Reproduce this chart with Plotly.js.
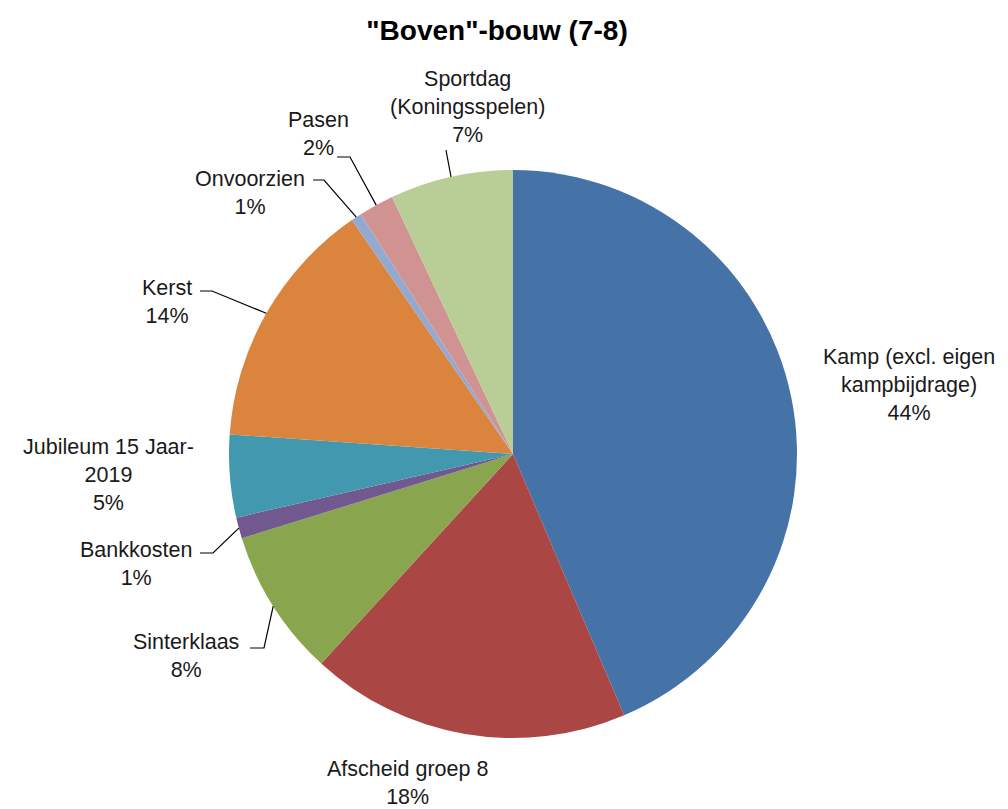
<!DOCTYPE html>
<html>
<head>
<meta charset="utf-8">
<script src="https://cdn.plot.ly/plotly-3.0.1.min.js"></script>
<style>html,body{margin:0;padding:0;background:#fff;}#chart{width:1008px;height:809px;}</style>
</head>
<body>
<div id="chart"></div>
<script>
// ---- data ----
const categories = ["Kamp (excl. eigen<br>kampbijdrage)", "Afscheid groep 8", "Sinterklaas", "Bankkosten",
  "Jubileum 15 Jaar-<br>2019", "Kerst", "Onvoorzien", "Pasen", "Sportdag<br>(Koningsspelen)"];
const values = [43.6, 18.2, 8.4, 1.2, 4.7, 14.3, 0.6, 2.0, 7.0];
const colors = ["#4572A7", "#AA4643", "#89A54E", "#71588F", "#4198AF", "#DB843D", "#93A9CF", "#D19392", "#B9CD96"];

// ---- layout/styling ----
const W = 1008, H = 809;
const CX = 513, CY = 454, R = 284;
// label text centres (px) and leader elbow points (px) ; null = no leader
const labelPos = [
  {x: 909, y: 385, leader: null},
  {x: 407, y: 783, leader: null},
  {x: 186, y: 656, leader: [[250, 648], [264, 648]]},
  {x: 136, y: 564, leader: [[200, 553], [213, 553]]},
  {x: 108, y: 475, leader: null},
  {x: 167, y: 302, leader: [[200, 291], [212, 291]]},
  {x: 250, y: 193, leader: [[313, 180], [324, 180]]},
  {x: 318, y: 134, leader: [[337, 157], [350, 157]]},
  {x: 467, y: 107, leader: [[446, 150]]}
];

const total = values.reduce((a, b) => a + b, 0);
const font = "Liberation Sans, Arial, sans-serif";

const annotations = [];
const shapes = [];
let cum = 0;
values.forEach((v, i) => {
  const mid = (cum + v / 2) / total * 2 * Math.PI; // clockwise from top
  cum += v;
  const pct = Math.round(v / total * 100);
  const lp = labelPos[i];
  annotations.push({
    xref: 'x', yref: 'y', x: lp.x, y: lp.y, showarrow: false,
    text: categories[i] + '<br>' + pct + '%',
    font: {family: font, size: 21.5, color: '#1a1a1a'},
    align: 'center', xanchor: 'center', yanchor: 'middle'
  });
  if (lp.leader) {
    const ex = CX + R * Math.sin(mid), ey = CY - R * Math.cos(mid);
    let d = 'M' + lp.leader[0][0] + ',' + lp.leader[0][1];
    for (let k = 1; k < lp.leader.length; k++) d += ' L' + lp.leader[k][0] + ',' + lp.leader[k][1];
    d += ' L' + ex.toFixed(1) + ',' + ey.toFixed(1);
    shapes.push({type: 'path', xref: 'x', yref: 'y', path: d, line: {color: '#000', width: 1.2}, layer: 'above'});
  }
});

const trace = {
  type: 'pie', values: values, labels: categories,
  marker: {colors: colors, line: {width: 0}},
  sort: false, direction: 'clockwise', rotation: 0,
  textinfo: 'none', showlegend: false, hoverinfo: 'label+percent',
  domain: {x: [(CX - R) / W, (CX + R) / W], y: [(H - CY - R) / H, (H - CY + R) / H]}
};

const layout = {
  width: W, height: H,
  margin: {l: 0, r: 0, t: 0, b: 0},
  paper_bgcolor: '#fff', plot_bgcolor: 'rgba(0,0,0,0)',
  font: {family: font},
  title: {text: '<b>"Boven"-bouw (7-8)</b>', x: 497 / W, xanchor: 'center', y: 1 - 30 / H, yanchor: 'middle',
          font: {family: font, size: 28, color: '#000'}},
  xaxis: {range: [0, W], visible: false, fixedrange: true},
  yaxis: {range: [H, 0], visible: false, fixedrange: true},
  annotations: annotations,
  shapes: shapes
};

Plotly.newPlot('chart', [trace], layout, {displayModeBar: false, staticPlot: true});
</script>
</body>
</html>
